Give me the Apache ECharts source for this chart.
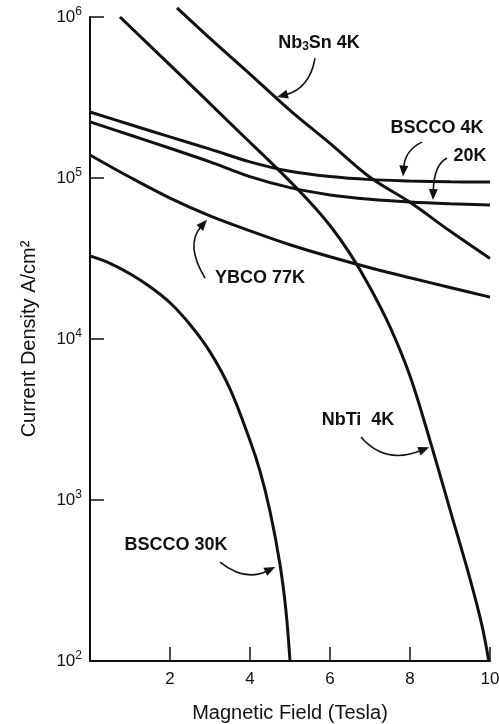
<!DOCTYPE html>
<html>
<head>
<meta charset="utf-8">
<script src="https://cdn.jsdelivr.net/npm/echarts@6/dist/echarts.min.js"></script>
<style>
  html, body { margin: 0; padding: 0; background: #fff; }
  #chart { width: 499px; height: 724px; }
</style>
</head>
<body>
<div id="chart"></div>
<script>
// Field values (Tesla) and critical current densities (A/cm^2)
const fieldNbTi = [0.75, 1.75, 2.75, 3.75, 4.75, 5.5, 6.0, 6.5, 7.0, 7.5, 8.0, 8.5, 9.0, 9.5, 9.8, 9.97];
const jcNbTi = [1.0e6, 5.78e5, 3.33e5, 1.91e5, 1.10e5, 7.08e4, 5.07e4, 3.39e4, 2.09e4, 1.19e4, 5.89e3, 2.34e3, 871, 324, 166, 100];

const fieldNb3Sn = [2.175, 3, 4, 5, 6, 7, 8, 9, 10];
const jcNb3Sn = [1.14e6, 7.37e5, 4.42e5, 2.63e5, 1.64e5, 1.01e5, 7.06e4, 4.68e4, 3.16e4];

const fieldBscco4 = [0, 1, 2, 3, 4, 5, 6, 7, 8, 9, 10];
const jcBscco4 = [2.57e5, 2.15e5, 1.80e5, 1.51e5, 1.26e5, 1.10e5, 1.02e5, 9.77e4, 9.59e4, 9.48e4, 9.44e4];

const fieldBscco20 = [0, 1, 2, 3, 4, 5, 6, 7, 8, 9, 10];
const jcBscco20 = [2.23e5, 1.85e5, 1.53e5, 1.26e5, 1.02e5, 8.71e4, 7.85e4, 7.38e4, 7.10e4, 6.92e4, 6.79e4];

const fieldYbco = [0, 1, 2, 3, 4, 5, 6, 7, 8, 9, 10];
const jcYbco = [1.39e5, 1.01e5, 7.50e4, 5.82e4, 4.70e4, 3.85e4, 3.24e4, 2.77e4, 2.40e4, 2.09e4, 1.82e4];

const fieldBscco30 = [0, 0.5, 1.0, 1.5, 2.0, 2.5, 3.0, 3.5, 4.0, 4.25, 4.5, 4.75, 4.9, 5.0];
const jcBscco30 = [3.28e4, 2.95e4, 2.54e4, 2.11e4, 1.68e4, 1.23e4, 8.32e3, 4.90e3, 2.34e3, 1.51e3, 851, 398, 204, 100];

const xTicks = [2, 4, 6, 8, 10];

// label text, label centre, arrow start, arrow control point, arrow tip (data units)
const notes = [
  { text: 'Nb{sub|3}Sn 4K', at: [5.725, 6.9e5], from: [5.625, 5.56e5], via: [5.5, 3.62e5], to: [4.675, 3.18e5] },
  { text: 'BSCCO 4K', at: [8.675, 2.05e5], from: [8.3, 1.67e5], via: [7.875, 1.49e5], to: [7.825, 1.02e5] },
  { text: '20K', at: [9.5, 1.37e5], from: [8.925, 1.33e5], via: [8.6, 1.21e5], to: [8.575, 7.3e4] },
  { text: 'YBCO 77K', at: [4.25, 2.39e4], from: [2.875, 2.39e4], via: [2.375, 3.84e4], to: [2.925, 5.5e4] },
  { text: 'NbTi  4K', at: [6.7, 3.14e3], from: [6.775, 2.46e3], via: [7.375, 1.65e3], to: [8.48, 2.13e3] },
  { text: 'BSCCO 30K', at: [2.15, 525], from: [3.25, 412], via: [3.875, 310], to: [4.63, 384] }
];

const FONT = '"Liberation Sans", Arial, Helvetica, sans-serif';
const INK = '#111';

function zip(xs, ys) {
  return xs.map((x, i) => [x, ys[i]]);
}

function curve(name, xs, ys) {
  return {
    name: name,
    type: 'line',
    data: zip(xs, ys),
    smooth: 0.35,
    showSymbol: false,
    clip: false,
    lineStyle: { color: INK, width: 3 },
    silent: true
  };
}

const chart = echarts.init(document.getElementById('chart'), null, { renderer: 'canvas' });

chart.setOption({
  backgroundColor: '#fff',
  animation: false,
  grid: { left: 90, right: 9, top: 17, bottom: 63, containLabel: false, outerBoundsMode: 'none' },
  xAxis: {
    type: 'value',
    min: 0,
    max: 10,
    interval: 2,
    name: 'Magnetic Field (Tesla)',
    nameLocation: 'middle',
    nameGap: 42,
    nameTextStyle: { fontFamily: FONT, fontSize: 20, color: INK },
    axisLine: { lineStyle: { color: INK, width: 2 } },
    axisTick: { inside: true, length: 14, lineStyle: { color: INK, width: 1.5 } },
    axisLabel: {
      margin: 10, fontFamily: FONT, fontSize: 17, color: INK, showMinLabel: false,
      formatter: v => xTicks.includes(v) ? String(v) : ''
    },
    splitLine: { show: false }
  },
  yAxis: {
    type: 'log',
    logBase: 10,
    min: 100,
    max: 1e6,
    name: 'Current Density A/cm²',
    nameLocation: 'middle',
    nameGap: 51,
    nameTextStyle: { fontFamily: FONT, fontSize: 20, color: INK },
    axisLine: { lineStyle: { color: INK, width: 2 } },
    axisTick: { inside: true, length: 14, lineStyle: { color: INK, width: 1.5 } },
    axisLabel: {
      margin: 8, fontFamily: FONT, color: INK,
      formatter: v => '{b|10}{s|' + Math.round(Math.log10(v)) + '}',
      rich: {
        b: { fontFamily: FONT, fontSize: 17, lineHeight: 22, color: INK },
        s: { fontFamily: FONT, fontSize: 12, verticalAlign: 'top', lineHeight: 22, color: INK }
      }
    },
    splitLine: { show: false }
  },
  series: [
    curve('NbTi 4K', fieldNbTi, jcNbTi),
    curve('Nb3Sn 4K', fieldNb3Sn, jcNb3Sn),
    curve('BSCCO 4K', fieldBscco4, jcBscco4),
    curve('BSCCO 20K', fieldBscco20, jcBscco20),
    curve('YBCO 77K', fieldYbco, jcYbco),
    curve('BSCCO 30K', fieldBscco30, jcBscco30)
  ]
});

// Annotations: bold labels with curved arrows, placed through the grid's own scales
function px(p) {
  return chart.convertToPixel({ gridIndex: 0 }, p);
}

const elements = [];
notes.forEach(n => {
  const c = px(n.at), a = px(n.from), m = px(n.via), t = px(n.to);
  elements.push({
    type: 'text',
    x: c[0], y: c[1],
    silent: true,
    style: {
      text: n.text,
      fill: INK,
      font: 'bold 18px ' + FONT,
      align: 'center',
      verticalAlign: 'middle',
      rich: {
        sub: { font: 'bold 12px ' + FONT, fill: INK, verticalAlign: 'bottom', padding: [8, 0, 0, 0] }
      }
    }
  });
  // shorten the curve so the arrow head carries the tip
  const dx = t[0] - m[0], dy = t[1] - m[1];
  const len = Math.sqrt(dx * dx + dy * dy) || 1;
  const ux = dx / len, uy = dy / len;
  const headL = 11, headW = 4.5;
  const base = [t[0] - ux * headL, t[1] - uy * headL];
  elements.push({
    type: 'bezierCurve',
    silent: true,
    shape: { x1: a[0], y1: a[1], cpx1: m[0], cpy1: m[1], x2: base[0] + ux * 2, y2: base[1] + uy * 2 },
    style: { stroke: INK, lineWidth: 1.6, fill: null }
  });
  elements.push({
    type: 'polygon',
    silent: true,
    shape: {
      points: [
        t,
        [base[0] - uy * headW, base[1] + ux * headW],
        [base[0] + uy * headW, base[1] - ux * headW]
      ]
    },
    style: { fill: INK }
  });
});

chart.setOption({ graphic: { elements: elements } });
</script>
</body>
</html>
